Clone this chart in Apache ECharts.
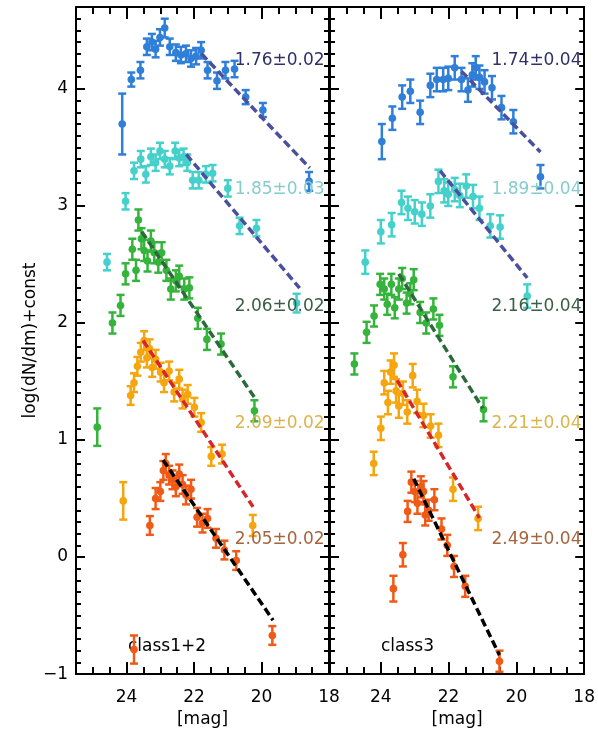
<!DOCTYPE html>
<html>
<head>
<meta charset="utf-8">
<script src="https://cdn.jsdelivr.net/npm/echarts@6/dist/echarts.min.js"></script>
<style>
  html, body { margin: 0; padding: 0; background: #fff; }
  #chart { width: 598px; height: 733px; }
</style>
</head>
<body>
<div id="chart"></div>
<script>
// Luminosity functions: [magnitude, log(dN/dm)+const, error]
const c12Blue = [
  [24.13, 3.70, 0.26], [23.86, 4.08, 0.06], [23.59, 4.16, 0.07], [23.40, 4.36, 0.07],
  [23.25, 4.40, 0.07], [23.14, 4.34, 0.07], [23.01, 4.44, 0.07], [22.87, 4.52, 0.08],
  [22.72, 4.36, 0.07], [22.54, 4.31, 0.07], [22.39, 4.29, 0.07], [22.24, 4.30, 0.07],
  [22.09, 4.26, 0.07], [21.94, 4.28, 0.07], [21.79, 4.33, 0.07], [21.60, 4.16, 0.07],
  [21.32, 4.07, 0.07], [21.07, 4.16, 0.07], [20.80, 4.17, 0.07], [20.47, 3.93, 0.06],
  [19.96, 3.82, 0.06], [18.59, 3.21, 0.08]
];
const c12Cyan = [
  [24.58, 2.52, 0.07], [24.03, 3.04, 0.07], [23.78, 3.30, 0.07], [23.58, 3.40, 0.07],
  [23.43, 3.27, 0.07], [23.28, 3.42, 0.07], [23.14, 3.37, 0.07], [23.01, 3.47, 0.07],
  [22.87, 3.40, 0.07], [22.72, 3.34, 0.07], [22.56, 3.47, 0.07], [22.44, 3.41, 0.07],
  [22.31, 3.42, 0.07], [22.20, 3.37, 0.07], [22.04, 3.22, 0.07], [21.86, 3.22, 0.07],
  [21.65, 3.27, 0.07], [21.45, 3.28, 0.07], [21.00, 3.15, 0.07], [20.65, 2.83, 0.07],
  [20.15, 2.81, 0.07], [18.96, 2.17, 0.08]
];
const c12Green = [
  [24.87, 1.11, 0.16], [24.42, 2.00, 0.09], [24.18, 2.15, 0.09], [24.03, 2.42, 0.09],
  [23.83, 2.63, 0.09], [23.72, 2.45, 0.09], [23.65, 2.88, 0.09], [23.56, 2.72, 0.09],
  [23.48, 2.62, 0.09], [23.38, 2.53, 0.09], [23.28, 2.70, 0.09], [23.18, 2.60, 0.09],
  [23.06, 2.52, 0.09], [22.96, 2.60, 0.09], [22.82, 2.45, 0.09], [22.69, 2.29, 0.09],
  [22.54, 2.36, 0.09], [22.44, 2.40, 0.09], [22.29, 2.29, 0.09], [22.14, 2.30, 0.09],
  [21.89, 2.04, 0.09], [21.62, 1.86, 0.09], [21.20, 1.82, 0.09], [20.21, 1.25, 0.09]
];
const c12Orange = [
  [24.10, 0.48, 0.16], [23.88, 1.38, 0.08], [23.78, 1.49, 0.08], [23.68, 1.63, 0.08],
  [23.58, 1.75, 0.08], [23.48, 1.85, 0.08], [23.40, 1.70, 0.08], [23.32, 1.78, 0.08],
  [23.24, 1.62, 0.08], [23.14, 1.69, 0.08], [22.99, 1.58, 0.08], [22.89, 1.49, 0.08],
  [22.74, 1.59, 0.08], [22.59, 1.41, 0.08], [22.44, 1.52, 0.08], [22.34, 1.35, 0.08],
  [22.19, 1.39, 0.08], [21.99, 1.28, 0.08], [21.79, 1.15, 0.08], [21.49, 0.86, 0.08],
  [21.17, 0.88, 0.08], [20.26, 0.27, 0.09]
];
const c12Red = [
  [23.78, -0.79, 0.12], [23.31, 0.27, 0.08], [23.14, 0.50, 0.09], [23.00, 0.56, 0.08],
  [22.91, 0.74, 0.08], [22.84, 0.80, 0.08], [22.74, 0.70, 0.08], [22.64, 0.66, 0.08],
  [22.54, 0.60, 0.08], [22.44, 0.71, 0.08], [22.34, 0.62, 0.08], [22.24, 0.53, 0.08],
  [22.09, 0.58, 0.08], [21.91, 0.34, 0.08], [21.75, 0.29, 0.08], [21.60, 0.33, 0.08],
  [21.35, 0.16, 0.08], [21.10, 0.06, 0.08], [20.75, -0.03, 0.08], [19.68, -0.67, 0.08]
];

const c3Blue = [
  [23.97, 3.55, 0.15], [23.66, 3.75, 0.10], [23.37, 3.93, 0.10], [23.13, 3.98, 0.10],
  [22.84, 3.80, 0.10], [22.54, 4.03, 0.10], [22.35, 4.08, 0.10], [22.16, 4.08, 0.10],
  [22.01, 4.09, 0.10], [21.82, 4.18, 0.10], [21.62, 4.08, 0.10], [21.43, 3.99, 0.10],
  [21.30, 4.12, 0.10], [21.20, 4.18, 0.10], [21.09, 4.10, 0.10], [20.94, 4.06, 0.10],
  [20.72, 4.01, 0.10], [20.44, 3.84, 0.10], [20.09, 3.72, 0.10], [19.29, 3.25, 0.10]
];
const c3Cyan = [
  [24.46, 2.52, 0.10], [24.00, 2.78, 0.10], [23.68, 2.84, 0.10], [23.39, 3.03, 0.10],
  [23.20, 2.98, 0.10], [23.00, 2.95, 0.10], [22.79, 2.93, 0.10], [22.54, 3.00, 0.10],
  [22.30, 3.21, 0.10], [22.13, 3.13, 0.10], [22.01, 3.10, 0.10], [21.82, 3.14, 0.10],
  [21.67, 3.09, 0.10], [21.48, 3.17, 0.10], [21.28, 3.08, 0.10], [21.09, 2.98, 0.10],
  [20.77, 2.83, 0.10], [20.48, 2.82, 0.10], [19.68, 2.23, 0.10]
];
const c3Green = [
  [24.78, 1.65, 0.09], [24.42, 1.92, 0.09], [24.20, 2.06, 0.09], [24.02, 2.33, 0.09],
  [23.90, 2.29, 0.09], [23.81, 2.16, 0.09], [23.69, 2.33, 0.09], [23.59, 2.13, 0.09],
  [23.47, 2.29, 0.09], [23.37, 2.38, 0.09], [23.24, 2.17, 0.09], [23.13, 2.25, 0.09],
  [23.03, 2.37, 0.09], [22.84, 2.09, 0.09], [22.66, 2.00, 0.09], [22.45, 2.12, 0.09],
  [22.27, 1.98, 0.09], [21.87, 1.54, 0.09], [20.97, 1.26, 0.10]
];
const c3Orange = [
  [24.21, 0.80, 0.10], [24.00, 1.10, 0.10], [23.90, 1.49, 0.10], [23.79, 1.32, 0.10],
  [23.71, 1.58, 0.10], [23.61, 1.64, 0.10], [23.55, 1.42, 0.10], [23.47, 1.29, 0.10],
  [23.35, 1.40, 0.10], [23.22, 1.24, 0.10], [23.06, 1.55, 0.10], [22.93, 1.33, 0.10],
  [22.74, 1.21, 0.10], [22.53, 1.12, 0.10], [22.30, 1.04, 0.10], [21.87, 0.58, 0.10],
  [21.13, 0.33, 0.10]
];
const c3Red = [
  [23.63, -0.27, 0.11], [23.35, 0.02, 0.10], [23.21, 0.39, 0.09], [23.10, 0.64, 0.09],
  [23.00, 0.56, 0.09], [22.92, 0.46, 0.09], [22.82, 0.60, 0.09], [22.74, 0.56, 0.09],
  [22.69, 0.36, 0.09], [22.59, 0.40, 0.09], [22.42, 0.49, 0.09], [22.21, 0.24, 0.09],
  [22.04, 0.10, 0.09], [21.84, -0.08, 0.09], [21.51, -0.25, 0.09], [20.50, -0.89, 0.09]
];

// Fitted power-law slopes: [alpha, error]
const slopes12 = [[1.76, 0.02], [1.85, 0.03], [2.06, 0.02], [2.09, 0.02], [2.05, 0.02]];
const slopes3  = [[1.74, 0.04], [1.89, 0.04], [2.16, 0.04], [2.21, 0.04], [2.49, 0.04]];

// Fit ranges: [faint magnitude, log value there, bright magnitude]
const fitRange12 = [[21.78, 4.30, 18.57], [22.23, 3.44, 18.87], [23.55, 2.78, 20.20], [23.51, 1.85, 20.25], [22.92, 0.83, 19.66]];
const fitRange3  = [[21.62, 4.15, 19.29], [22.25, 3.30, 19.68], [23.47, 2.42, 20.99], [23.52, 1.51, 21.09], [23.03, 0.67, 20.50]];

const xTicks = [18, 20, 22, 24];
const yTicks = [-1, 0, 1, 2, 3, 4];
const panelNames = ['class1+2', 'class3'];

// ---- styling ----
const FONT = 'DejaVu Sans';
const pointColors = ['#2f7fd8', '#44d0cb', '#35b43b', '#f5a50d', '#ef5a17'];
const fitColors   = ['#4a4f9e', '#4a4f9e', '#2c6a3b', '#d6262b', '#000000'];
const labelColors = ['#30306a', '#86cdcd', '#3b5e46', '#dbb44c', '#a5653e'];
const labelY = [4.24, 3.14, 2.14, 1.14, 0.15];
const labelMag = [18.13, 18.08];

const panels = [
  { sets: [c12Blue, c12Cyan, c12Green, c12Orange, c12Red], slopes: slopes12, fits: fitRange12 },
  { sets: [c3Blue, c3Cyan, c3Green, c3Orange, c3Red], slopes: slopes3, fits: fitRange3 }
];

const grids = [
  { left: 76, top: 7, width: 253, height: 669 },
  { left: 330, top: 7, width: 258, height: 669 }
];

const minus = v => (v < 0 ? '\u2212' + Math.abs(v) : String(v));

function xAxisFor(gi, pos) {
  return {
    type: 'value', gridIndex: gi, position: pos, inverse: true,
    min: 18, max: 25.5, interval: 2,
    axisLine: { show: true, onZero: false, lineStyle: { color: '#000', width: 2 } },
    axisTick: { show: true, inside: true, length: 12, lineStyle: { color: '#000', width: 2 } },
    minorTick: { show: true, splitNumber: 4, length: 7, lineStyle: { color: '#000', width: 2 } },
    splitLine: { show: false },
    axisLabel: {
      show: pos === 'bottom', margin: 15, fontSize: 17, fontFamily: FONT, color: '#000',
      formatter: v => (xTicks.includes(v) ? String(v) : '')
    },
    name: pos === 'bottom' ? '[mag]' : '',
    nameLocation: 'middle', nameGap: 31,
    nameTextStyle: { fontSize: 17, fontFamily: FONT, color: '#000' }
  };
}

function yAxisFor(gi, pos, labelled) {
  return {
    type: 'value', gridIndex: gi, position: pos,
    min: -1, max: 4.7, interval: 1,
    axisLine: { show: true, onZero: false, lineStyle: { color: '#000', width: 2 } },
    axisTick: { show: true, inside: true, length: 9, lineStyle: { color: '#000', width: 2 } },
    minorTick: { show: true, splitNumber: 10, length: 5, lineStyle: { color: '#000', width: 2 } },
    splitLine: { show: false },
    axisLabel: {
      show: labelled, margin: 8, fontSize: 17, fontFamily: FONT, color: '#000',
      formatter: v => (yTicks.includes(v) ? minus(v) : '')
    },
    name: labelled ? 'log(dN/dm)+const' : '',
    nameLocation: 'middle', nameGap: 35,
    nameTextStyle: { fontSize: 17, fontFamily: FONT, color: '#000' }
  };
}

const xAxes = [xAxisFor(0, 'bottom'), xAxisFor(0, 'top'), xAxisFor(1, 'bottom'), xAxisFor(1, 'top')];
const yAxes = [yAxisFor(0, 'left', true), yAxisFor(0, 'right', false), yAxisFor(1, 'left', false), yAxisFor(1, 'right', false)];

// Error bar with caps and a filled circle at the value
function errorBars(color) {
  return function (params, api) {
    const m = api.value(0), v = api.value(1), e = api.value(2);
    const p = api.coord([m, v]);
    const hi = api.coord([m, v + e]);
    const lo = api.coord([m, v - e]);
    const cap = 4;
    const st = { stroke: color, lineWidth: 2.5 };
    return {
      type: 'group',
      children: [
        { type: 'line', shape: { x1: p[0], y1: hi[1], x2: p[0], y2: lo[1] }, style: st },
        { type: 'line', shape: { x1: p[0] - cap, y1: hi[1], x2: p[0] + cap, y2: hi[1] }, style: st },
        { type: 'line', shape: { x1: p[0] - cap, y1: lo[1], x2: p[0] + cap, y2: lo[1] }, style: st },
        { type: 'circle', shape: { cx: p[0], cy: p[1], r: 3.8 }, style: { fill: color } }
      ]
    };
  };
}

const series = [];
panels.forEach((panel, pi) => {
  const xi = pi * 2, yi = pi * 2;
  panel.sets.forEach((set, k) => {
    series.push({
      type: 'custom', xAxisIndex: xi, yAxisIndex: yi,
      renderItem: errorBars(pointColors[k]),
      encode: { x: 0, y: 1 },
      data: set, z: 2, silent: true
    });
  });
  // power-law fits: slope of log(dN/dm) per magnitude is 0.4 (alpha - 1)
  panel.fits.forEach((f, k) => {
    const alpha = panel.slopes[k][0];
    const slope = 0.4 * (alpha - 1);
    const [m0, y0, m1] = f;
    series.push({
      type: 'line', xAxisIndex: xi, yAxisIndex: yi,
      data: [[m0, y0], [m1, y0 - slope * (m0 - m1)]],
      symbol: 'none', silent: true, z: 3,
      lineStyle: { color: fitColors[k], width: 3.5, type: [8, 4] }
    });
  });
  series.push({
    type: 'custom', xAxisIndex: xi, yAxisIndex: yi, z: 4, silent: true,
    data: panel.slopes.map((s, k) => [labelMag[pi], labelY[k], s[0], s[1], k]),
    encode: { x: 0, y: 1 },
    renderItem: (params, api) => {
      const k = api.value(4);
      const p = api.coord([api.value(0), api.value(1)]);
      return {
        type: 'text', x: p[0], y: p[1],
        style: {
          text: api.value(2).toFixed(2) + '\u00b1' + api.value(3).toFixed(2),
          fill: labelColors[k], fontSize: 17, fontFamily: FONT,
          align: 'right', verticalAlign: 'middle'
        }
      };
    }
  });
});

const chart = echarts.init(document.getElementById('chart'), null, { renderer: 'canvas' });
chart.setOption({
  backgroundColor: '#fff',
  animation: false,
  grid: grids,
  xAxis: xAxes,
  yAxis: yAxes,
  series: series,
  graphic: [
    { type: 'text', left: 128, top: 638, style: { text: panelNames[0], fontSize: 17, fontFamily: FONT, fill: '#000' } },
    { type: 'text', left: 381, top: 638, style: { text: panelNames[1], fontSize: 17, fontFamily: FONT, fill: '#000' } }
  ]
});
</script>
</body>
</html>
